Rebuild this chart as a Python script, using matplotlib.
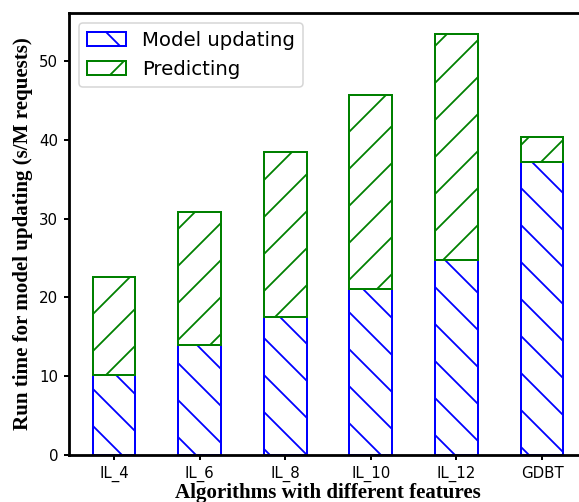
import matplotlib
matplotlib.use("Agg")
import matplotlib.pyplot as plt
import numpy as np

categories = ["IL_4", "IL_6", "IL_8", "IL_10", "IL_12", "GDBT"]
model_updating = [10.1, 13.9, 17.5, 21.0, 24.7, 37.2]
predicting = [12.5, 16.9, 20.9, 24.7, 28.7, 3.2]

DPI = 111
W, H = 579, 502
px = lambda p: p * 72.0 / DPI  # pixel size -> points

plt.rcParams['hatch.linewidth'] = px(1.8)

fig = plt.figure(figsize=(W / DPI, H / DPI), dpi=DPI)
ax = fig.add_axes([69 / W, 1 - 455 / H, (587 - 69) / W, (455 - 13) / H])

x = np.arange(len(categories))
ax.bar(x, model_updating, 0.5, color='white', edgecolor='blue', hatch='\\',
       linewidth=px(2.0), label='Model updating')
ax.bar(x, predicting, 0.5, bottom=model_updating, color='white', edgecolor='green',
       hatch='/', linewidth=px(2.0), label='Predicting')

ax.set_xticks(x)
ax.set_xticklabels(categories)
ax.tick_params(labelsize=px(15), length=px(5), width=px(2), pad=px(6))
for s in ax.spines.values():
    s.set_linewidth(px(2.8))

ax.set_ylim(0, 56.07)
ax.set_xlim(-0.525, 5.525)

lab_font = dict(family='Liberation Serif', weight='bold', size=px(21))
ax.set_xlabel('Algorithms with different features', fontdict=lab_font, labelpad=px(1))
ax.set_ylabel('Run time for model updating (s/M requests)', fontdict=lab_font, labelpad=px(6))

ax.legend(loc='upper left', fontsize=px(19.8))

fig.savefig('out.png', dpi=DPI)
